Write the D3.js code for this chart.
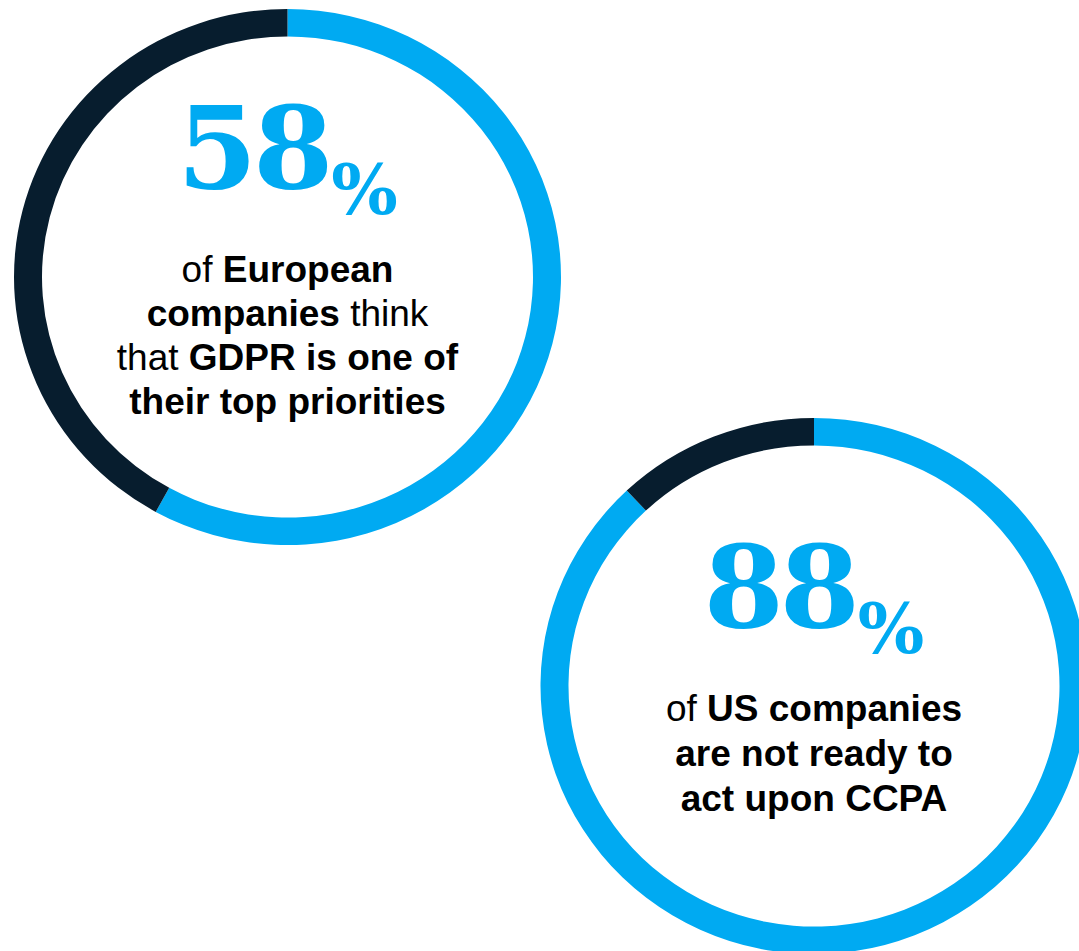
<!DOCTYPE html>
<html>
<head>
<meta charset="utf-8">
<script src="https://cdn.jsdelivr.net/npm/d3@7/dist/d3.min.js"></script>
<style>
  html, body { margin: 0; padding: 0; background: #ffffff; }
  svg { display: block; }
</style>
</head>
<body>
<svg id="chart" width="1079" height="951"></svg>
<script>
// Survey shares shown as progress rings
const statNames = ["Europe GDPR", "US CCPA"];
const statValues = [58, 88];
const statLabels = ["58", "88"];
const statTexts = [
  [
    [["of ", false], ["European", true]],
    [["companies", true], [" think", false]],
    [["that ", false], ["GDPR is one of", true]],
    [["their top priorities", true]]
  ],
  [
    [["of ", false], ["US companies", true]],
    [["are not ready to", true]],
    [["act upon CCPA", true]]
  ]
];

// Layout
const W = 1079, H = 951;
const centers = [[287.5, 277], [814, 686]];
const numberBaseline = [188, 627];
const lineBaselines = [[282, 326, 370, 414], [721, 766, 811]];
const outerR = 273.5, ringWidth = 28, squash = 0.98;
const blue = "#00aaf2", navy = "#071d2e";

const svg = d3.select("#chart");

const pie = d3.pie().sort(null).value(d => d.v);
const arc = d3.arc().innerRadius(outerR - ringWidth).outerRadius(outerR);
const color = d3.scaleOrdinal().domain(["share", "rest"]).range([blue, navy]);

statValues.forEach((v, i) => {
  const [cx, cy] = centers[i];
  const ring = svg.append("g")
    .attr("class", "ring")
    .attr("transform", `translate(${cx},${cy}) scale(1,${squash})`);

  ring.selectAll("path")
    .data(pie([{ k: "share", v: v }, { k: "rest", v: 100 - v }]))
    .join("path")
    .attr("d", arc)
    .attr("fill", d => color(d.data.k));

  // big number with a smaller, lowered percent sign
  const num = svg.append("text")
    .attr("x", cx)
    .attr("y", numberBaseline[i])
    .attr("text-anchor", "middle")
    .attr("fill", blue)
    .style("font-family", "'DejaVu Serif', serif")
    .style("font-weight", "bold");
  num.append("tspan")
    .style("font-size", "115px")
    .style("letter-spacing", "-4px")
    .text(statLabels[i]);
  num.append("tspan")
    .attr("dy", 26)
    .attr("dx", 2)
    .style("font-size", "70px")
    .text("%");

  // description lines
  statTexts[i].forEach((segs, j) => {
    const t = svg.append("text")
      .attr("x", cx)
      .attr("y", lineBaselines[i][j])
      .attr("text-anchor", "middle")
      .attr("fill", "#000")
      .style("font-family", "'Liberation Sans', Arial, sans-serif")
      .style("font-size", "37px");
    segs.forEach(([s, b]) => {
      t.append("tspan")
        .style("font-weight", b ? "bold" : "normal")
        .text(s);
    });
  });
});
</script>
</body>
</html>
